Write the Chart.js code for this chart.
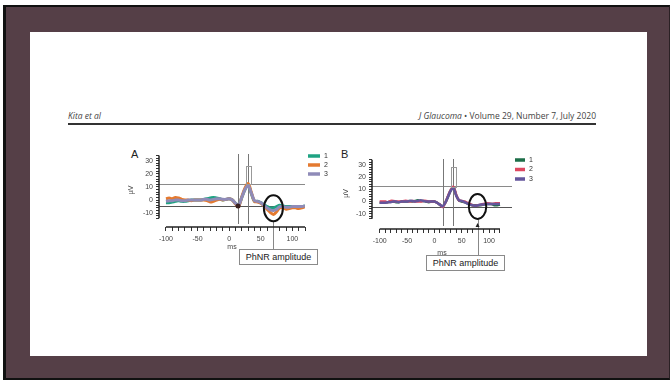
<!DOCTYPE html>
<html>
<head>
<meta charset="utf-8">
<script src="https://cdn.jsdelivr.net/npm/chart.js@4.4.1/dist/chart.umd.min.js"></script>
<style>
html, body { margin: 0; padding: 0; }
body { width: 670px; height: 380px; position: relative; overflow: hidden; background: #fff; font-family: "Liberation Sans", Arial, sans-serif; }
#frame { position: absolute; left: 3px; top: 5px; right: 0; bottom: 0; background: #553f47; border-left: 3px solid #111; border-top: 2px solid #111; border-bottom: 2px solid #111; border-right: 1px solid #2a2024; }
#page { position: absolute; left: 30px; top: 32px; width: 617px; height: 324px; background: #fff; }
.hdr { position: absolute; top: 110px; font-family: "Open Sans", sans-serif; font-size: 8.5px; color: #444; line-height: 12px; white-space: nowrap; }
#rule { position: absolute; left: 68px; top: 123px; width: 528px; height: 2px; background: #333; }
.panel { position: absolute; }
.letter { position: absolute; font-size: 11px; color: #222; }
.callout { position: absolute; box-sizing: border-box; width: 79px; height: 16px; border: 1px solid #8a8a8a; background: #fff; font-size: 9px; line-height: 14px; text-align: center; color: #222; white-space: nowrap; }
</style>
</head>
<body>
<div id="frame"></div>
<div id="page"></div>
<div class="hdr" style="left:68px;"><i>Kita et al</i></div>
<div class="hdr" style="right:74px;"><i>J Glaucoma</i> &bull; Volume 29, Number 7, July 2020</div>
<div id="rule"></div>

<div class="letter" style="left:131px;top:148px;">A</div>
<div class="letter" style="left:341px;top:148px;">B</div>

<div class="panel" style="left:120px;top:140px;"><canvas id="chartA" width="215" height="109"></canvas></div>
<div class="panel" style="left:335px;top:140px;"><canvas id="chartB" width="210" height="115"></canvas></div>

<div class="callout" style="left:239px;top:249px;">PhNR amplitude</div>
<div class="callout" style="left:426px;top:255px;">PhNR amplitude</div>

<script>
// time axis (ms), shared by both panels
var times = [-100, -95, -90, -85, -80, -75, -70, -65, -60, -55,
             -50, -45, -40, -35, -30, -25, -20, -15, -10, -5,
             0, 5, 10, 15, 20, 25, 30, 35, 40, 45,
             50, 55, 60, 65, 70, 75, 80, 85, 90, 95,
             100, 105, 110, 115, 120];
var seriesNames = ['1', '2', '3'];

// panel A, three recordings (uV)
var a1 = [-2, -2, -1.5, -1, -0.5, -1, -1, -0.5, 0, 0,
          0, 0, 0.5, 1, 1.5, 2, 1.5, 1, 0, 0.5,
          1, 0, -2.5, -4, 2, 8, 11.5, 5, -1, -1,
          -2, -3.5, -5, -6, -6, -5, -4, -4.5, -5, -5,
          -5, -5.5, -5, -5, -4.5];
var a2 = [1, 1.5, 1, 2, 1.5, 0.5, 0, 0, -0.5, 0,
          0, 0, 0, -0.5, -1.5, -1, 0, 0.5, 0, 0.5,
          1, 0, -3, -5, 2.5, 9, 12.5, 6, -1, -1.5,
          -2.5, -4.5, -7, -9.5, -11, -9, -6, -6, -7, -6.5,
          -6, -6, -6.5, -6, -5];
var a3 = [-1, -0.5, -0.5, 0, 0, -0.5, -0.5, 0, 0, 0,
          0, 0, 0.5, 0.5, 0, 0.5, 1, 1, 0.5, 0.5,
          1, 0, -2.5, -4, 2, 8, 11, 5.5, -0.5, -1,
          -2, -4, -6, -7.5, -8, -7, -5, -5, -5.5, -5.5,
          -5, -5, -5, -5, -4.5];

// panel B, three recordings (uV)
var b1 = [-1, -1, -0.5, -0.5, 0, 0, -0.5, -0.5, 0, 0,
          0, 0.5, 0, 0.5, 1, 0.5, 0.5, 0, -0.5, 0,
          0, -1, -2.5, -4, -1, 4, 9, 11.5, 5, 1,
          0, -0.5, -1.5, -2.5, -3, -3, -3, -3, -2.5, -2,
          -2, -2, -3, -3, -2.5];
var b2 = [0, 0, 0, -0.5, 0.5, 0.5, 0, 0, 0, 0.5,
          0.5, 0, 0.5, 0, 0, 0, 0.5, 0.5, 0, 0,
          0, -1, -2.5, -4.5, -1, 4.5, 9.5, 12, 5.5, 1,
          0.5, 0, -1, -2, -3, -3.5, -3, -2.5, -2, -1.5,
          -1.5, -2, -1.5, -1.5, -1.5];
var b3 = [-1, -1, -1, -0.5, -0.5, 0, 0, -0.5, 0, 0,
          0, 0.5, 0.5, 0, 0.5, 1, 0.5, 0, 0, 0,
          0, -1, -2.5, -4, -1, 4, 9, 11, 5, 1,
          0.5, -0.5, -1.5, -2.5, -3, -3.5, -3, -2.5, -2.5, -2,
          -2, -2, -2, -2, -2];

var xTickLabels = [-100, -50, 0, 50, 100];
var yTickLabels = [-10, 0, 10, 20, 30];

function pts(vals) {
    return times.map(function (t, i) { return { x: t, y: vals[i] }; });
}

function rangeTicks(from, to, step) {
    var out = [];
    for (var v = from; v <= to; v += step) out.push({ value: v });
    return out;
}

// reference lines, ellipse, rulers and legend, all placed through the scales
var ergDecor = {
    id: 'ergDecor',
    beforeDatasetsDraw: function (chart, args, o) {
        var ctx = chart.ctx, xs = chart.scales.x, ys = chart.scales.y, a = chart.chartArea;
        ctx.save();
        ctx.lineWidth = 1;
        o.hlines.forEach(function (h) {
            var y = Math.round(ys.getPixelForValue(h.y)) + 0.5;
            ctx.strokeStyle = h.color;
            ctx.beginPath(); ctx.moveTo(a.left, y); ctx.lineTo(a.right, y); ctx.stroke();
        });
        ctx.strokeStyle = '#777';
        o.vlines.forEach(function (v) {
            var x = Math.round(xs.getPixelForValue(v)) + 0.5;
            ctx.beginPath(); ctx.moveTo(x, a.top + 1); ctx.lineTo(x, a.bottom - 3); ctx.stroke();
        });
        ctx.restore();
    },
    afterDatasetsDraw: function (chart, args, o) {
        var ctx = chart.ctx, xs = chart.scales.x, ys = chart.scales.y;
        ctx.save();
        // peak marker box
        var bx = xs.getPixelForValue(o.bar.x);
        var by0 = ys.getPixelForValue(o.bar.y0), by1 = ys.getPixelForValue(o.bar.y1);
        ctx.strokeStyle = '#999';
        ctx.lineWidth = 1;
        ctx.strokeRect(Math.round(bx - o.bar.w / 2) + 0.5, Math.round(by1) + 0.5, o.bar.w, Math.round(by0 - by1));
        if (o.dot) {
            ctx.fillStyle = '#3a2020';
            ctx.beginPath();
            ctx.arc(xs.getPixelForValue(o.dot.x), ys.getPixelForValue(o.dot.y), 2.5, 0, Math.PI * 2);
            ctx.fill();
        }
        // PhNR ellipse and callout line
        var ex = xs.getPixelForValue(o.ellipse.x), ey = ys.getPixelForValue(o.ellipse.y);
        ctx.strokeStyle = '#888';
        ctx.lineWidth = 1;
        ctx.beginPath();
        ctx.moveTo(Math.round(ex) + 0.5, ey + o.ellipse.ry);
        ctx.lineTo(Math.round(ex) + 0.5, chart.height);
        ctx.stroke();
        if (o.arrow) {
            var ay = chart.scales.x.top - 3;
            ctx.fillStyle = '#222';
            ctx.beginPath();
            ctx.moveTo(ex, ay - 3); ctx.lineTo(ex - 2, ay + 1); ctx.lineTo(ex + 2, ay + 1);
            ctx.closePath(); ctx.fill();
        }
        ctx.strokeStyle = '#111';
        ctx.lineWidth = 2;
        ctx.beginPath();
        ctx.ellipse(ex, ey, o.ellipse.rx, o.ellipse.ry, 0, 0, Math.PI * 2);
        ctx.stroke();
        ctx.restore();
    },
    afterDraw: function (chart, args, o) {
        var ctx = chart.ctx, xs = chart.scales.x, ys = chart.scales.y, a = chart.chartArea;
        ctx.save();
        ctx.strokeStyle = '#222';
        ctx.lineWidth = 1.5;
        // x ruler
        ctx.beginPath();
        ctx.moveTo(xs.getPixelForValue(o.xRuler[0]), a.bottom);
        ctx.lineTo(xs.getPixelForValue(o.xRuler[1]), a.bottom);
        ctx.stroke();
        // y ruler
        ctx.beginPath();
        ctx.moveTo(a.left, ys.getPixelForValue(o.yRuler[0]));
        ctx.lineTo(a.left, ys.getPixelForValue(o.yRuler[1]));
        ctx.stroke();
        // legend from the datasets
        ctx.font = '7px "Liberation Sans", Arial, sans-serif';
        ctx.textBaseline = 'middle';
        chart.data.datasets.forEach(function (ds, i) {
            var y = a.top + o.legend.y0 + i * o.legend.dy;
            ctx.strokeStyle = ds.borderColor;
            ctx.lineWidth = 3.5;
            ctx.beginPath();
            ctx.moveTo(a.right + o.legend.x0, y);
            ctx.lineTo(a.right + o.legend.x1, y);
            ctx.stroke();
            ctx.fillStyle = '#333';
            ctx.fillText(ds.label, a.right + o.legend.x1 + 4, y);
        });
        ctx.restore();
    }
};

function makeChart(id, sets, colors, cfg) {
    return new Chart(document.getElementById(id), {
        type: 'line',
        data: {
            datasets: sets.map(function (vals, i) {
                return {
                    label: seriesNames[i],
                    data: pts(vals),
                    borderColor: colors[i],
                    borderWidth: cfg.lineWidth,
                    pointRadius: 0,
                    tension: 0.35,
                    fill: false,
                    order: sets.length - i   // series 3 ends up on top
                };
            })
        },
        options: {
            responsive: false,
            animation: false,
            layout: { padding: { top: cfg.padTop, right: cfg.padRight, left: 0, bottom: 0 } },
            plugins: {
                legend: { display: false },
                tooltip: { enabled: false },
                ergDecor: cfg.decor
            },
            scales: {
                x: {
                    type: 'linear',
                    min: cfg.xMin, max: cfg.xMax,
                    afterFit: function (s) { s.height = cfg.xHeight; },
                    afterBuildTicks: function (s) { s.ticks = rangeTicks(-100, 120, 10); },
                    border: { display: false },
                    grid: { drawOnChartArea: false, tickLength: 4, color: '#333', lineWidth: 1 },
                    ticks: {
                        autoSkip: false, maxRotation: 0, padding: 4, color: '#444',
                        font: { size: 7, family: '"Liberation Sans", Arial, sans-serif' },
                        callback: function (v) { return xTickLabels.indexOf(v) >= 0 ? String(v) : ''; }
                    },
                    title: {
                        display: true, text: 'ms', color: '#444', padding: { top: 0, bottom: -2 },
                        font: { size: 7, family: '"Liberation Sans", Arial, sans-serif' }
                    }
                },
                y: {
                    min: cfg.yMin, max: cfg.yMax,
                    afterFit: function (s) { s.width = cfg.yWidth; },
                    afterBuildTicks: function (s) { s.ticks = rangeTicks(cfg.decor.yRuler[0], cfg.decor.yRuler[1], 2); },
                    border: { display: false },
                    grid: { drawOnChartArea: false, tickLength: 3, color: '#333', lineWidth: 1 },
                    ticks: {
                        autoSkip: false, padding: 3, color: '#444',
                        font: { size: 7, family: '"Liberation Sans", Arial, sans-serif' },
                        callback: function (v) { return yTickLabels.indexOf(v) >= 0 ? String(v) : ''; }
                    },
                    title: {
                        display: true, text: 'µV', color: '#444', padding: { top: 7, bottom: 0 },
                        font: { size: 7, family: '"Liberation Sans", Arial, sans-serif' }
                    }
                }
            }
        },
        plugins: [ergDecor]
    });
}

makeChart('chartA', [a1, a2, a3], ['#1fa383', '#e47a30', '#8f8bb8'], {
    lineWidth: 3, padTop: 13, padRight: 30, xHeight: 22, yWidth: 39,
    xMin: -111, xMax: 120, yMin: -20.6, yMax: 35.9,
    decor: {
        hlines: [{ y: 11.9, color: '#8a8a8a' }, { y: -4.3, color: '#555' }],
        vlines: [14, 30],
        bar: { x: 30, y0: 12, y1: 26, w: 5 },
        dot: { x: 14, y: -4.5 },
        ellipse: { x: 70, y: -6.3, rx: 9.5, ry: 13 },
        arrow: false,
        xRuler: [-100, 120], yRuler: [-14, 34],
        legend: { x0: 3, x1: 15, y0: 3, dy: 9 }
    }
});

makeChart('chartB', [b1, b2, b3], ['#1d6e48', '#de4760', '#64569c'], {
    lineWidth: 2.5, padTop: 18, padRight: 33, xHeight: 26, yWidth: 37,
    xMin: -114, xMax: 142, yMin: -22.4, yMax: 35.5,
    decor: {
        hlines: [{ y: 12.7, color: '#8a8a8a' }, { y: -4.8, color: '#555' }],
        vlines: [15, 35],
        bar: { x: 35, y0: 12, y1: 28, w: 5 },
        dot: null,
        ellipse: { x: 79, y: -4, rx: 8.7, ry: 12.5 },
        arrow: true,
        xRuler: [-100, 120], yRuler: [-14, 34],
        legend: { x0: 3, x1: 13, y0: 2, dy: 9.5 }
    }
});
</script>
</body>
</html>
